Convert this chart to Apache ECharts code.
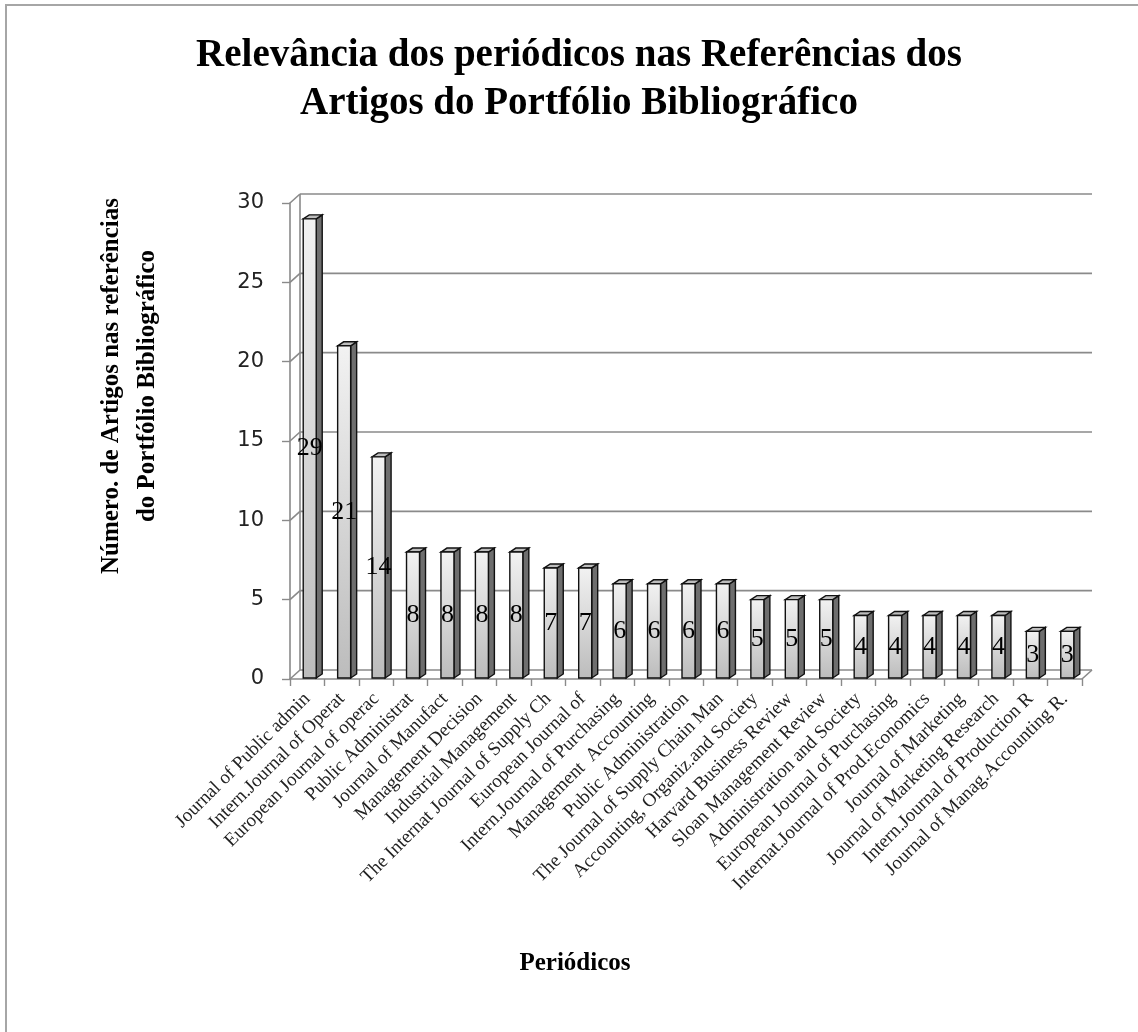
<html>
<head>
    <meta http-equiv="Content-Type" content="text/html; charset=utf-8" />
    <script type="text/javascript" src="https://cdn.jsdelivr.net/npm/echarts@6/dist/echarts.min.js"></script>
</head>
<body style="margin:0;background:#fff">
<div id="main" style="width: 1138px;height:1032px;"></div>
<script type="text/javascript">
    // dados do grafico
    var periodicos = [
        'Journal of Public admin', 'Intern.Journal of Operat', 'European Journal of operac',
        'Public Administrat', 'Journal of Manufact', 'Management Decision',
        'Industrial Management', 'The Internat Journal of Supply Ch', 'European Journal of',
        'Intern.Journal of Purchasing', 'Management  Accounting', 'Public Administration',
        'The Journal of Supply Chain Man', 'Accounting, Organiz.and Society', 'Harvard Business Review',
        'Sloan Management Review', 'Administration and Society', 'European Journal of Purchasing',
        'Internat.Journal of Prod.Economics', 'Journal of Marketing', 'Journal of Marketing Research',
        'Intern.Journal of Production R', 'Journal of Manag.Accounting R.'
    ];
    var artigos = [29, 21, 14, 8, 8, 8, 8, 7, 7, 6, 6, 6, 6, 5, 5, 5, 4, 4, 4, 4, 4, 3, 3];
    var yTicks = [0, 5, 10, 15, 20, 25, 30];

    var serif = "'Liberation Serif', 'DejaVu Serif', serif";
    var DX = 10, DY = 9; // profundidade do efeito 3D

    // paredes e linhas de grade (deslocadas para tras)
    function desenhaParede(params, api) {
        var cs = params.coordSys;
        var y = api.coord([0, api.value(0)])[1];
        var cor = '#8a8a8a';
        var filhos = [
            {type: 'line', shape: {x1: cs.x + DX, y1: y - DY, x2: cs.x + cs.width + DX, y2: y - DY},
                style: {stroke: cor, lineWidth: 1.6}},
            {type: 'line', shape: {x1: cs.x, y1: y, x2: cs.x + DX, y2: y - DY},
                style: {stroke: cor, lineWidth: 1.6}}
        ];
        if (api.value(0) === 0) {
            filhos.push({type: 'line', shape: {x1: cs.x + cs.width, y1: y, x2: cs.x + cs.width + DX, y2: y - DY},
                style: {stroke: cor, lineWidth: 1.6}});
            filhos.push({type: 'line', shape: {x1: cs.x + DX, y1: y - DY, x2: cs.x + DX, y2: cs.y - DY},
                style: {stroke: cor, lineWidth: 1.6}});
        }
        return {type: 'group', children: filhos};
    }

    // barras 3D
    function desenhaBarra(params, api) {
        var i = api.value(0), v = api.value(1);
        var base = api.coord([i, 0]);
        var topo = api.coord([i, v]);
        var x0 = base[0] - 4, w = 13, sx = 6, sy = 4;
        var yb = base[1] - 1, yt = topo[1];
        var borda = {stroke: '#111', lineWidth: 1.4};
        return {
            type: 'group',
            children: [
                {type: 'polygon', shape: {points: [[x0 + w, yt], [x0 + w + sx, yt - sy], [x0 + w + sx, yb - sy], [x0 + w, yb]]},
                    style: Object.assign({fill: '#6e6e6e'}, borda)},
                {type: 'polygon', shape: {points: [[x0, yt], [x0 + sx, yt - sy], [x0 + w + sx, yt - sy], [x0 + w, yt]]},
                    style: Object.assign({fill: '#bdbdbd'}, borda)},
                {type: 'rect', shape: {x: x0, y: yt, width: w, height: yb - yt},
                    style: Object.assign({
                        fill: new echarts.graphic.LinearGradient(0, 0, 0, 1, [
                            {offset: 0, color: '#f2f2f2'},
                            {offset: 1, color: '#bcbcbc'}
                        ])
                    }, borda)},
                {type: 'text', z2: 10, style: {
                    text: String(v), x: x0 + w / 2, y: (yt + yb) / 2,
                    align: 'center', verticalAlign: 'middle',
                    font: '26px ' + serif, fill: '#000'
                }}
            ]
        };
    }

    var myChart = echarts.init(document.getElementById('main'));

    var option = {
        backgroundColor: '#fff',
        animation: false,
        title: [{
            text: 'Relevância dos periódicos nas Referências dos\nArtigos do Portfólio Bibliográfico',
            left: 574, top: 27, textAlign: 'center',
            textStyle: {fontFamily: serif, fontWeight: 'bold', fontSize: 39, lineHeight: 48, color: '#000'}
        }, {
            text: 'Periódicos',
            left: 570, top: 946, textAlign: 'center',
            textStyle: {fontFamily: serif, fontWeight: 'bold', fontSize: 25, color: '#000'}
        }],
        graphic: [{
            type: 'rect', shape: {x: 6, y: 5, width: 1200, height: 1100},
            style: {fill: 'none', stroke: '#a6a6a6', lineWidth: 2}, silent: true
        }, {
            type: 'text', x: 130, y: 386, rotation: Math.PI / 2,
            style: {
                text: 'Número. de Artigos nas referências\ndo Portfólio Bibliográfico',
                align: 'center', verticalAlign: 'middle', lineHeight: 36,
                font: 'bold 25px ' + serif, fill: '#000'
            }
        }],
        grid: {left: 290, right: 56, top: 203, bottom: 353},
        xAxis: {
            type: 'category',
            data: periodicos,
            axisLine: {lineStyle: {color: '#8a8a8a', width: 1.6}},
            axisTick: {show: true, length: 7, lineStyle: {color: '#8a8a8a', width: 1.4}},
            axisLabel: {
                rotate: 45, interval: 0, margin: 17,
                fontFamily: serif, fontSize: 19, color: '#222'
            }
        },
        yAxis: {
            type: 'value',
            min: 0, max: 30, interval: 5,
            axisLine: {show: true, lineStyle: {color: '#8a8a8a', width: 1.6}},
            axisTick: {show: true, length: 8, lineStyle: {color: '#8a8a8a', width: 1.4}},
            splitLine: {show: false},
            axisLabel: {margin: 26, fontFamily: "'DejaVu Sans', sans-serif", fontSize: 21, color: '#222'}
        },
        series: [{
            type: 'custom',
            renderItem: desenhaParede,
            data: yTicks.map(function (t) { return [t]; }),
            encode: {y: 0},
            silent: true,
            z: 1
        }, {
            type: 'custom',
            renderItem: desenhaBarra,
            data: artigos.map(function (v, i) { return [i, v]; }),
            encode: {x: 0, y: 1},
            z: 3
        }]
    };

    myChart.setOption(option);
</script>
</body>
</html>
